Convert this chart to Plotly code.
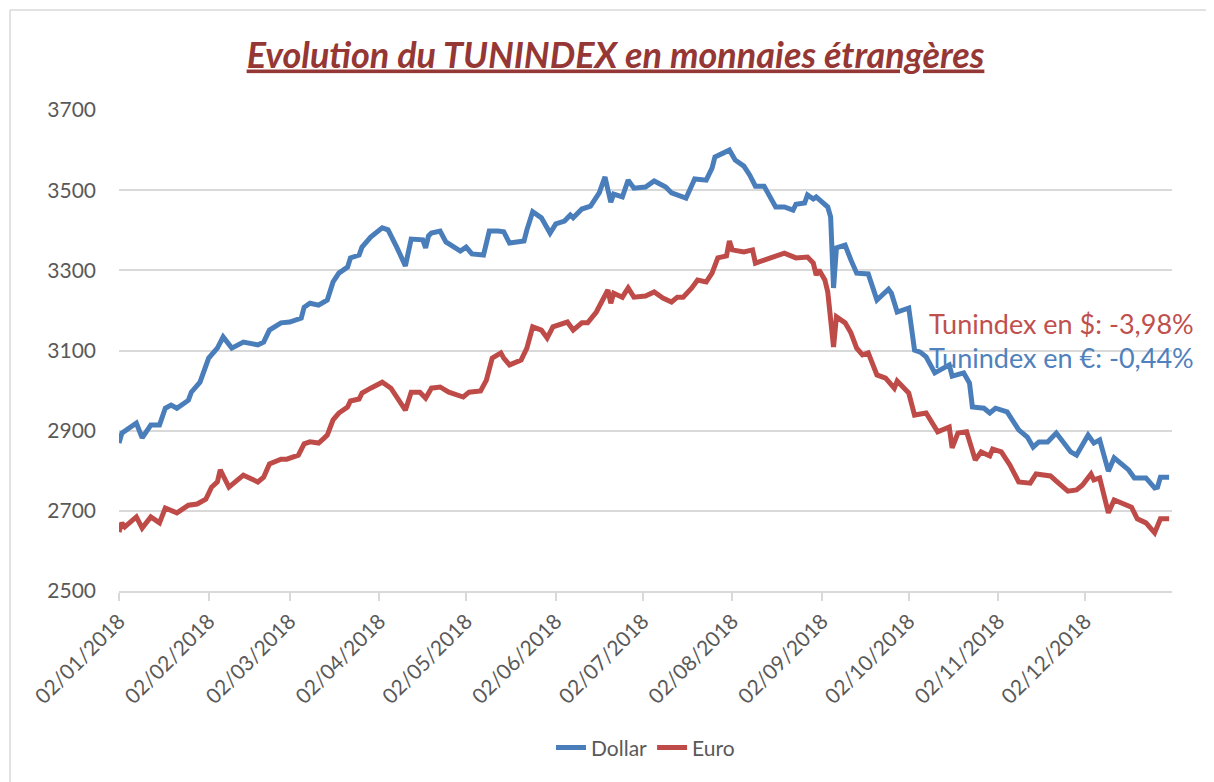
import plotly.graph_objects as go

dollar_dates = ["2018-01-02","2018-01-03","2018-01-08","2018-01-10","2018-01-13","2018-01-16","2018-01-18","2018-01-20","2018-01-22","2018-01-26","2018-01-27","2018-01-30",
"2018-02-02","2018-02-05","2018-02-07","2018-02-09","2018-02-10","2018-02-14","2018-02-19","2018-02-21","2018-02-23","2018-02-27",
"2018-03-02","2018-03-06","2018-03-07","2018-03-09","2018-03-12","2018-03-15","2018-03-17","2018-03-19","2018-03-22","2018-03-23","2018-03-26","2018-03-27","2018-03-30",
"2018-04-03","2018-04-05","2018-04-08","2018-04-11","2018-04-13","2018-04-17","2018-04-18","2018-04-19","2018-04-20","2018-04-23","2018-04-25","2018-04-27","2018-04-30",
"2018-05-02","2018-05-04","2018-05-08","2018-05-09","2018-05-10","2018-05-13","2018-05-15","2018-05-17","2018-05-22","2018-05-23","2018-05-25","2018-05-28","2018-05-30","2018-05-31",
"2018-06-02","2018-06-05","2018-06-07","2018-06-08","2018-06-11","2018-06-14","2018-06-17","2018-06-19","2018-06-21","2018-06-22","2018-06-25","2018-06-27","2018-06-29",
"2018-07-03","2018-07-06","2018-07-10","2018-07-12","2018-07-17","2018-07-20","2018-07-24","2018-07-26","2018-07-27","2018-07-30",
"2018-08-01","2018-08-03","2018-08-06","2018-08-08","2018-08-10","2018-08-13","2018-08-17","2018-08-20","2018-08-23","2018-08-24","2018-08-27","2018-08-28","2018-08-30","2018-08-31",
"2018-09-04","2018-09-05","2018-09-06","2018-09-07","2018-09-10","2018-09-12","2018-09-14","2018-09-18","2018-09-21","2018-09-25","2018-09-26","2018-09-28",
"2018-10-02","2018-10-04","2018-10-06","2018-10-08","2018-10-11","2018-10-16","2018-10-17","2018-10-21","2018-10-23","2018-10-24","2018-10-28","2018-10-30",
"2018-11-01","2018-11-05","2018-11-09","2018-11-12","2018-11-14","2018-11-16","2018-11-19","2018-11-22","2018-11-27","2018-11-29",
"2018-12-03","2018-12-05","2018-12-07","2018-12-10","2018-12-12","2018-12-17","2018-12-19","2018-12-23","2018-12-26","2018-12-27","2018-12-28","2018-12-31"]
dollar_values = [2869,2894,2919,2882,2914,2914,2956,2964,2956,2976,2996,3021,
3081,3106,3134,3114,3106,3121,3114,3121,3151,3169,
3171,3181,3208,3218,3213,3226,3271,3293,3308,3331,3338,3358,3383,
3406,3401,3358,3311,3378,3376,3356,3386,3393,3398,3371,3363,3348,
3358,3341,3338,3363,3398,3398,3396,3368,3373,3401,3446,3431,3408,3393,
3416,3423,3438,3431,3453,3460,3493,3533,3470,3490,3483,3525,3505,
3508,3523,3508,3493,3480,3528,3525,3555,3583,3593,
3600,3575,3560,3538,3510,3510,3458,3458,3450,3465,3468,3488,3478,3483,
3458,3433,3256,3356,3363,3326,3293,3291,3226,3253,3243,3196,
3206,3101,3096,3084,3044,3064,3036,3044,3019,2959,2956,2944,
2956,2947,2902,2884,2859,2872,2872,2894,2847,2839,
2889,2869,2877,2799,2832,2802,2782,2782,2757,2759,2784,2784]

euro_dates = ["2018-01-02","2018-01-03","2018-01-04","2018-01-08","2018-01-10","2018-01-13","2018-01-16","2018-01-18","2018-01-22","2018-01-26","2018-01-29",
"2018-02-01","2018-02-03","2018-02-05","2018-02-06","2018-02-08","2018-02-09","2018-02-14","2018-02-19","2018-02-21","2018-02-23","2018-02-27",
"2018-03-01","2018-03-05","2018-03-07","2018-03-09","2018-03-12","2018-03-14","2018-03-15","2018-03-17","2018-03-19","2018-03-22","2018-03-23","2018-03-26","2018-03-27","2018-03-30",
"2018-04-03","2018-04-06","2018-04-09","2018-04-11","2018-04-13","2018-04-16","2018-04-18","2018-04-20","2018-04-23","2018-04-26",
"2018-05-01","2018-05-03","2018-05-07","2018-05-09","2018-05-11","2018-05-14","2018-05-15","2018-05-17","2018-05-21","2018-05-23","2018-05-25","2018-05-28","2018-05-30",
"2018-06-01","2018-06-06","2018-06-08","2018-06-11","2018-06-13","2018-06-16","2018-06-20","2018-06-21","2018-06-22","2018-06-25","2018-06-27","2018-06-29",
"2018-07-03","2018-07-06","2018-07-09","2018-07-12","2018-07-14","2018-07-16","2018-07-19","2018-07-21","2018-07-24","2018-07-26","2018-07-28","2018-07-31",
"2018-08-01","2018-08-02","2018-08-06","2018-08-09","2018-08-10","2018-08-14","2018-08-16","2018-08-20","2018-08-24","2018-08-25","2018-08-28","2018-08-30","2018-08-31",
"2018-09-01","2018-09-03","2018-09-04","2018-09-06","2018-09-07","2018-09-10","2018-09-12","2018-09-14","2018-09-16","2018-09-18","2018-09-21","2018-09-24","2018-09-27","2018-09-28",
"2018-10-02","2018-10-04","2018-10-08","2018-10-09","2018-10-12","2018-10-16","2018-10-17","2018-10-19","2018-10-22","2018-10-25","2018-10-27","2018-10-30","2018-10-31",
"2018-11-03","2018-11-06","2018-11-09","2018-11-13","2018-11-15","2018-11-20","2018-11-22","2018-11-26","2018-11-29",
"2018-12-01","2018-12-04","2018-12-05","2018-12-07","2018-12-10","2018-12-12","2018-12-14","2018-12-18","2018-12-20","2018-12-23","2018-12-26","2018-12-28","2018-12-31"]
euro_values = [2647,2670,2660,2685,2657,2685,2670,2707,2695,2714,2717,
2729,2759,2772,2802,2777,2759,2789,2772,2784,2817,2829,
2829,2839,2867,2872,2869,2882,2889,2927,2944,2959,2974,2979,2994,3006,
3021,3006,2976,2951,2996,2996,2981,3006,3009,2996,
2984,2996,2999,3026,3081,3094,3081,3064,3076,3106,3159,3151,3131,
3159,3171,3151,3169,3169,3196,3251,3218,3243,3233,3256,3233,
3236,3246,3231,3221,3233,3233,3256,3276,3271,3293,3331,3336,
3373,3351,3346,3351,3318,3328,3333,3343,3331,3331,3333,3318,3288,
3301,3276,3246,3109,3184,3169,3144,3106,3089,3094,3039,3031,3006,3024,
2994,2939,2944,2932,2897,2909,2857,2894,2897,2827,2847,2837,2854,
2847,2814,2772,2769,2792,2787,2774,2749,2752,
2764,2792,2777,2782,2695,2727,2722,2709,2680,2670,2645,2680,2680]

tick_dates = ["2018-01-02","2018-02-02","2018-03-02","2018-04-02","2018-05-02","2018-06-02",
              "2018-07-02","2018-08-02","2018-09-02","2018-10-02","2018-11-02","2018-12-02"]
tick_labels = ["02/01/2018","02/02/2018","02/03/2018","02/04/2018","02/05/2018","02/06/2018",
               "02/07/2018","02/08/2018","02/09/2018","02/10/2018","02/11/2018","02/12/2018"]
y_ticks = [2500, 2700, 2900, 3100, 3300, 3500, 3700]

title_text = "Evolution du TUNINDEX en monnaies étrangères"
note_usd = "Tunindex en $: -3,98%"
note_eur = "Tunindex en €: -0,44%"

BLUE = "#4a7ebb"
RED = "#be4b48"
FONT = "Lato"

fig = go.Figure()
fig.add_trace(go.Scatter(x=dollar_dates, y=dollar_values, mode="lines", name="Dollar",
                         line=dict(color=BLUE, width=5)))
fig.add_trace(go.Scatter(x=euro_dates, y=euro_values, mode="lines", name="Euro",
                         line=dict(color=RED, width=5)))

fig.update_layout(
    width=1214, height=782,
    margin=dict(l=111, r=50, t=102, b=199),
    paper_bgcolor="white", plot_bgcolor="white",
    font=dict(family=FONT, color="#595959", size=21),
    title=dict(text="<b><i><u>" + title_text + "</u></i></b>", x=0.5004, xanchor="center",
               y=0.94, yanchor="middle",
               font=dict(family=FONT, size=36, color="#953735")),
    showlegend=True,
    legend=dict(orientation="h", x=0.5, xanchor="center", y=-0.326, yanchor="middle",
                font=dict(size=21, color="#595959")),
    xaxis=dict(type="date", range=["2018-01-02", "2019-01-01"],
               tickvals=tick_dates, ticktext=tick_labels, tickangle=-45,
               showgrid=False, showline=True, linecolor="#d9d9d9", linewidth=1.5,
               ticks="outside", ticklen=8, tickcolor="#d9d9d9", tickwidth=1.5,
               tickfont=dict(size=21, color="#595959")),
    yaxis=dict(range=[2500, 3700], tickvals=y_ticks, showgrid=True, gridcolor="#d9d9d9",
               gridwidth=1.5, zeroline=False, showline=False,
               tickfont=dict(size=21, color="#595959"), ticks="", ticklabelstandoff=22),
    annotations=[
        dict(text=note_usd, xref="paper", yref="paper", x=0.767, y=0.557, xanchor="left",
             yanchor="middle", showarrow=False, font=dict(size=27, color="#c0504d", family=FONT)),
        dict(text=note_eur, xref="paper", yref="paper", x=0.767, y=0.486, xanchor="left",
             yanchor="middle", showarrow=False, font=dict(size=27, color="#4f81bd", family=FONT)),
    ],
    shapes=[
        dict(type="line", xref="paper", yref="paper", x0=-0.1035, x1=1.1, y0=1.208, y1=1.208,
             line=dict(color="#d9d9d9", width=1.5)),
        dict(type="line", xref="paper", yref="paper", x0=-0.1035, x1=-0.1035, y0=1.208, y1=-0.45,
             line=dict(color="#d9d9d9", width=1.5)),
    ],
)

fig.write_html("out.html")
